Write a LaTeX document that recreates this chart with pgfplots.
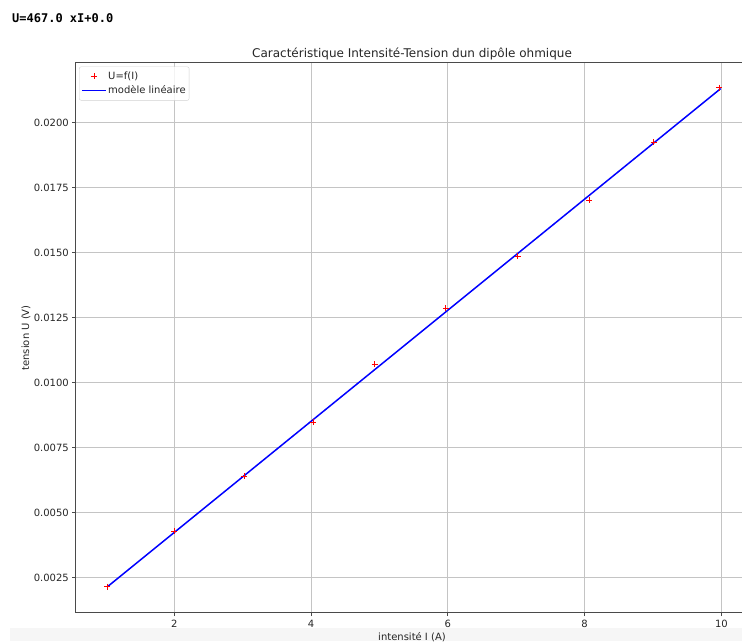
\documentclass[border=0pt]{standalone}
\usepackage{fontspec}
\setmainfont{DejaVu Sans}
\newfontfamily\monofont{DejaVu Sans Mono}
\usepackage{pgfplots}
\usepackage{pgfplotstable}
\pgfplotsset{compat=1.18}
\definecolor{gridgray}{HTML}{C4C4C4}
\definecolor{spine}{HTML}{4A4A4A}
\definecolor{txt}{HTML}{262626}
\definecolor{band}{HTML}{F6F6F6}

\pgfplotstableread{
I U
1.02 0.002154
2.00 0.004295
3.02 0.006408
4.03 0.008484
4.93 0.010701
5.97 0.012865
7.02 0.014874
8.07 0.017015
9.01 0.019244
9.97 0.021346
}\mesures

\pgfplotstableread{
I U
1.02 0.002146
9.99 0.021308
}\modele

\begin{document}
\begin{tikzpicture}[x=1pt,y=1pt]
\useasboundingbox (0,0) rectangle (742,641);
\clip (0,0) rectangle (742,641);
\fill[band] (10,0) rectangle (742,13);
\node[anchor=base west, inner sep=0pt, font=\monofont\bfseries\fontsize{12}{14}\selectfont] at (12,618) {U=467.0 xI+0.0};
\begin{axis}[
  at={(76pt,28.3pt)}, anchor=south west,
  scale only axis, width=672pt, height=549.7pt,
  xmin=0.564, xmax=10.389,
  ymin=0.001155, ymax=0.022291,
  xtick={2,4,6,8,10},
  xticklabels={2,4,6,8,10},
  ytick={0.0025,0.005,0.0075,0.01,0.0125,0.015,0.0175,0.02},
  yticklabels={0.0025,0.0050,0.0075,0.0100,0.0125,0.0150,0.0175,0.0200},
  scaled ticks=false,
  tick align=outside, tick pos=left,
  major tick length=3.5pt,
  every tick/.style={spine, line width=0.8pt},
  axis line style={spine, line width=1pt},
  grid=major,
  major grid style={gridgray, line width=0.8pt},
  tick label style={font=\fontsize{10}{12}\selectfont, text=txt},
  xticklabel style={inner sep=0pt, yshift=-3.5pt},
  yticklabel style={inner sep=0pt, xshift=-3.5pt},
  title={Caractéristique Intensité-Tension dun dipôle ohmique},
  title style={font=\fontsize{12}{14}\selectfont, text=txt, at={(axis description cs:0.5,1)}, anchor=south, inner sep=0pt, yshift=-3pt},
  xlabel={intensité I (A)},
  xlabel style={font=\fontsize{10}{12}\selectfont, text=txt, at={(axis description cs:0.5,-0.0497)}, anchor=base, inner sep=0pt},
  ylabel={tension U (V)},
  ylabel style={font=\fontsize{10}{12}\selectfont, text=txt, at={(axis description cs:-0.0745,0.5)}, anchor=center, inner sep=0pt},
  legend image code/.code={\draw[mark repeat=2,mark phase=2,#1] plot coordinates {(0pt,0pt) (12pt,0pt) (24pt,0pt)};},
  legend style={at={(axis description cs:0.0045,0.9935)}, anchor=north west,
    draw=black!18, rounded corners=2pt, fill=white, fill opacity=0.8, text opacity=1,
    font=\fontsize{10}{12}\selectfont, text=txt, inner xsep=2pt, inner ysep=3.5pt,
    row sep=2pt,
    nodes={inner sep=1.5pt},
    /tikz/every even column/.append style={column sep=4pt}},
  legend cell align=left,
  clip=false,
]
\addplot[color=red, only marks, mark=+, mark size=3pt, mark options={color=red, line width=0.8pt}] table[x=I,y=U] {\mesures};
\addlegendentry{U=f(I)}
\addplot[color=blue, line width=1.5pt, no marks] table[x=I,y=U] {\modele};
\addlegendentry{modèle linéaire}
\end{axis}
\end{tikzpicture}
\end{document}
